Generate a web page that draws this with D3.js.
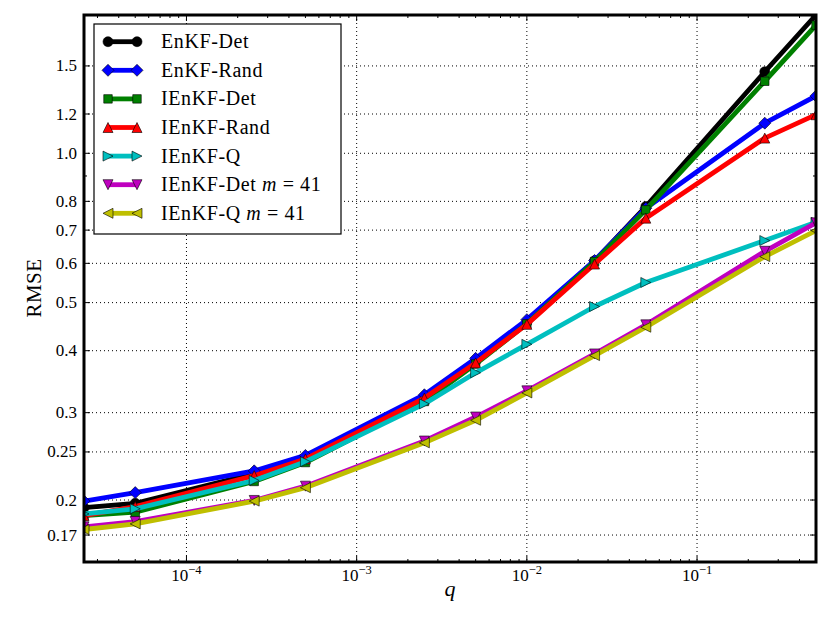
<!DOCTYPE html>
<html><head><meta charset="utf-8">
<script src="https://cdn.jsdelivr.net/npm/d3@7/dist/d3.min.js"></script>
<style>body{margin:0;background:#fff}svg{display:block}text{font-family:"Liberation Serif","DejaVu Serif",serif;fill:#000}</style>
</head><body>
<svg id="chart" width="830" height="623"></svg>
<script>
// ---- data ----
const qValues = [2.5e-5, 5e-5, 2.5e-4, 5e-4, 2.5e-3, 5e-3, 1e-2, 2.5e-2, 5e-2, 2.5e-1, 5e-1];
const enkfDet   = [0.193, 0.197, 0.226, 0.243, 0.323, 0.381, 0.456, 0.607, 0.781, 1.46, 1.90];
const enkfRand  = [0.199, 0.207, 0.229, 0.246, 0.326, 0.386, 0.462, 0.608, 0.775, 1.15, 1.305];
const ienkfDet  = [0.186, 0.189, 0.218, 0.238, 0.316, 0.376, 0.453, 0.605, 0.769, 1.397, 1.813];
const ienkfRand = [0.186, 0.194, 0.224, 0.242, 0.321, 0.378, 0.452, 0.598, 0.740, 1.073, 1.196];
const ienkfQ    = [0.1875, 0.192, 0.219, 0.239, 0.3125, 0.361, 0.412, 0.491, 0.549, 0.667, 0.726];
const ienkfDet41= [0.1766, 0.181, 0.1996, 0.2133, 0.263, 0.294, 0.332, 0.394, 0.451, 0.6345, 0.724];
const ienkfQ41  = [0.1744, 0.179, 0.199, 0.2118, 0.2608, 0.2896, 0.3288, 0.391, 0.446, 0.619, 0.6985];
const seriesNames = ["EnKF-Det","EnKF-Rand","IEnKF-Det","IEnKF-Rand","IEnKF-Q","IEnKF-Det m = 41","IEnKF-Q m = 41"];
const seriesValues = [enkfDet, enkfRand, ienkfDet, ienkfRand, ienkfQ, ienkfDet41, ienkfQ41];
const seriesColors = ["#000000","#0000ff","#008000","#ff0000","#00bfbf","#bf00bf","#bfbf00"];
const seriesMarkers = ["circle","diamond","square","triUp","triRight","triDown","triLeft"];
const yTickValues = [0.17, 0.2, 0.25, 0.3, 0.4, 0.5, 0.6, 0.7, 0.8, 1.0, 1.2, 1.5];
const yTickLabels = ["0.17","0.2","0.25","0.3","0.4","0.5","0.6","0.7","0.8","1.0","1.2","1.5"];
const yMinorTicks = [0.9];
const xTickValues = [1e-4, 1e-3, 1e-2, 1e-1];
const xTickExps = ["−4","−3","−2","−1"];
const xDomain = [2.5e-5, 0.5];
const yDomain = [0.15, 1.9];

// ---- layout ----
const L = 84, R = 816, T = 15, B = 562;
const svg = d3.select("#chart");
const x = d3.scaleLog().domain(xDomain).range([L, R]);
const y = d3.scaleLog().domain(yDomain).range([B, T]);

svg.append("defs").append("clipPath").attr("id","clip")
  .append("rect").attr("x",L).attr("y",T).attr("width",R-L).attr("height",B-T);

// grid
const grid = svg.append("g").attr("stroke","#000").attr("stroke-width",1).attr("stroke-dasharray","1,3");
xTickValues.forEach(v => grid.append("line").attr("x1",x(v)).attr("x2",x(v)).attr("y1",T).attr("y2",B));
yTickValues.forEach(v => grid.append("line").attr("x1",L).attr("x2",R).attr("y1",y(v)).attr("y2",y(v)));

// minor x ticks
const xMinor = [];
for (let e = -5; e <= -1; e++) for (let m = 2; m <= 9; m++) {
  const v = m * Math.pow(10, e);
  if (v > xDomain[0] && v < xDomain[1]) xMinor.push(v);
}
const ticks = svg.append("g").attr("stroke","#000").attr("stroke-width",1);
xMinor.forEach(v => {
  ticks.append("line").attr("x1",x(v)).attr("x2",x(v)).attr("y1",B).attr("y2",B-3);
  ticks.append("line").attr("x1",x(v)).attr("x2",x(v)).attr("y1",T).attr("y2",T+3);
});
xTickValues.forEach(v => {
  ticks.append("line").attr("x1",x(v)).attr("x2",x(v)).attr("y1",B).attr("y2",B-6);
  ticks.append("line").attr("x1",x(v)).attr("x2",x(v)).attr("y1",T).attr("y2",T+6);
});
yTickValues.forEach(v => {
  ticks.append("line").attr("x1",L).attr("x2",L+6).attr("y1",y(v)).attr("y2",y(v));
  ticks.append("line").attr("x1",R).attr("x2",R-6).attr("y1",y(v)).attr("y2",y(v));
});
yMinorTicks.forEach(v => {
  ticks.append("line").attr("x1",L).attr("x2",L+3).attr("y1",y(v)).attr("y2",y(v));
  ticks.append("line").attr("x1",R).attr("x2",R-3).attr("y1",y(v)).attr("y2",y(v));
});

// marker symbol paths
function markerPath(type, s) {
  const h = s / 2;
  switch (type) {
    case "circle": return `M${h},0A${h},${h} 0 1,1 ${-h},0A${h},${h} 0 1,1 ${h},0Z`;
    case "diamond": { const d = h * 1.2; return `M0,${-d}L${d},0L0,${d}L${-d},0Z`; }
    case "square": { const q = h * 0.85; return `M${-q},${-q}L${q},${-q}L${q},${q}L${-q},${q}Z`; }
    case "triUp": return `M0,${-h}L${h},${h}L${-h},${h}Z`;
    case "triDown": return `M0,${h}L${h},${-h}L${-h},${-h}Z`;
    case "triRight": return `M${h},0L${-h},${-h}L${-h},${h}Z`;
    case "triLeft": return `M${-h},0L${h},${-h}L${h},${h}Z`;
  }
}

// series
const plot = svg.append("g").attr("clip-path","url(#clip)");
const line = d3.line().x(d => x(d[0])).y(d => y(d[1]));
seriesValues.forEach((vals, i) => {
  const pts = qValues.map((q, j) => [q, vals[j]]);
  const g = plot.append("g");
  g.append("path").attr("d", line(pts)).attr("fill","none")
    .attr("stroke", seriesColors[i]).attr("stroke-width", 4.8).attr("stroke-linejoin","round");
  g.selectAll("path.m").data(pts).enter().append("path").attr("class","m")
    .attr("d", markerPath(seriesMarkers[i], 10))
    .attr("transform", d => `translate(${x(d[0])},${y(d[1])})`)
    .attr("fill", seriesColors[i]).attr("stroke","#000").attr("stroke-width",0.6);
});

// frame
svg.append("rect").attr("x",L).attr("y",T).attr("width",R-L).attr("height",B-T)
  .attr("fill","none").attr("stroke","#000").attr("stroke-width",3);

// tick labels
yTickValues.forEach((v, i) => {
  svg.append("text").attr("x", L-7).attr("y", y(v)+5.5).attr("text-anchor","end")
    .attr("font-size",17).text(yTickLabels[i]);
});
xTickValues.forEach((v, i) => {
  const t = svg.append("text").attr("x", x(v)).attr("y", 581).attr("text-anchor","middle").attr("font-size",17);
  t.append("tspan").text("10");
  t.append("tspan").attr("dy",-7).attr("font-size",12.5).text(xTickExps[i]);
});

// axis labels
svg.append("text").attr("x",450).attr("y",596).attr("text-anchor","middle")
  .attr("font-size",22).attr("font-style","italic").text("q");
svg.append("text").attr("transform","translate(41,288) rotate(-90)").attr("text-anchor","middle")
  .attr("font-size",21).attr("letter-spacing",0.5).text("RMSE");

// legend
const lg = svg.append("g");
lg.append("rect").attr("x",94).attr("y",24).attr("width",247).attr("height",210)
  .attr("fill","#fff").attr("stroke","#000").attr("stroke-width",1.2);
seriesNames.forEach((name, i) => {
  const cy = 41.7 + i * 28.6;
  lg.append("line").attr("x1",108).attr("x2",137).attr("y1",cy).attr("y2",cy)
    .attr("stroke",seriesColors[i]).attr("stroke-width",4.8);
  [108,137].forEach(mx => lg.append("path").attr("d", markerPath(seriesMarkers[i], 10))
    .attr("transform",`translate(${mx},${cy})`).attr("fill",seriesColors[i])
    .attr("stroke","#000").attr("stroke-width",0.6));
  const t = lg.append("text").attr("x",161).attr("y",cy+6.5).attr("font-size",20).attr("letter-spacing",0.6);
  const m = name.match(/^(.*) m = (\d+)$/);
  if (m) {
    t.append("tspan").text(m[1] + " ");
    t.append("tspan").attr("font-style","italic").text("m");
    t.append("tspan").text(" = " + m[2]);
  } else t.text(name);
});
</script>
</body></html>
